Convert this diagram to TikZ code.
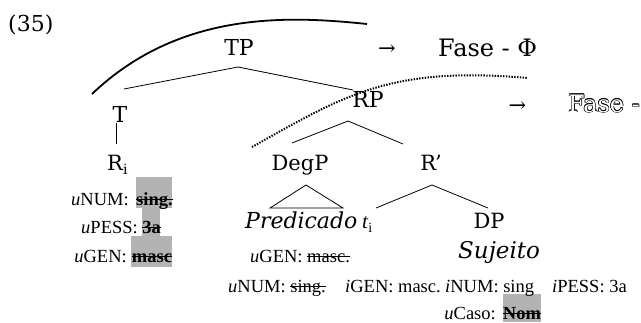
\documentclass[tikz,border=0pt]{standalone}
\usepackage{fontspec}
\setmainfont{Liberation Serif}
\newfontfamily\treefont{DejaVu Serif}
\definecolor{hl}{RGB}{179,179,179}
\newcommand{\tsz}[1]{\treefont\fontsize{#1}{#1}\selectfont}
\newcommand{\fsz}{\fontsize{18.5}{18.5}\selectfont}
\newcommand{\subi}{\raisebox{-0.22em}{\fontsize{14}{14}\selectfont i}}
\newlength\strklen
\newcommand{\strk}[1]{\settowidth{\strklen}{#1}\rlap{#1}\rule[0.3em]{\strklen}{0.8pt}}
\tikzset{
  lbl/.style={inner sep=0pt, anchor=base},
  feat/.style={inner sep=0pt, font=\fsz},
  edge/.style={line width=0.8pt},
  hlbox/.style={fill=hl, draw=none},
  phasearc/.style={line width=1.8pt},
  dotarc/.style={line width=2pt, dash pattern=on 1.4pt off 1.4pt},
  outl/.style={lbl, anchor=base west, font=\tsz{24}}
}
\begin{document}
\begin{tikzpicture}[x=1pt,y=-1pt]
\useasboundingbox (0,0) rectangle (641,322);
\clip (0,0) rectangle (641,322);
% highlight boxes
\fill[hlbox] (136,177) rectangle (172,208);
\fill[hlbox] (142,208) rectangle (160,236);
\fill[hlbox] (131,236) rectangle (172,267);
\fill[hlbox] (503,294) rectangle (541,322);
% header
\node[lbl, anchor=base west, font=\tsz{22}] (ex) at (8,31) {(35)};
% tree labels
\node[lbl, font=\tsz{22}] (TP) at (239,55) {TP};
\node[lbl, font=\tsz{21}] (ar1) at (387,55) {→};
\node[lbl, anchor=base west, font=\tsz{24}] (fase1) at (438,56) {Fase - Φ};
\node[lbl, font=\tsz{22}] (RP) at (368,107) {RP};
\node[lbl, font=\tsz{21}] (ar2) at (517.5,112) {→};
% outlined "Fase -"
\foreach \dx/\dy in {0.6/0,-0.6/0,0/0.6,0/-0.6,0.42/0.42,-0.42/0.42,0.42/-0.42,-0.42/-0.42}
  \node[outl, text=black] at (568+\dx,112+\dy) {Fase -};
\node[outl, text=white] (fase2) at (568,112) {Fase -};
\node[lbl, font=\tsz{22}] (T) at (120,122) {T};
\node[lbl, anchor=base west, font=\tsz{21}] (Ri) at (107,170) {R\subi};
\node[lbl, font=\tsz{21}] (DegP) at (300,170) {DegP};
\node[lbl, font=\tsz{21}] (Rbar) at (431,170) {R’};
\node[lbl, anchor=base west, font=\tsz{22}\itshape] (pred) at (245,228) {Predicado};
\node[lbl, anchor=base west, font=\fontsize{21}{21}\selectfont] (ti) at (362,228) {\textit{t}\subi};
\node[lbl, font=\tsz{21}] (DP) at (489,228) {DP};
\node[lbl, anchor=base west, font=\tsz{23}\itshape] (suj) at (458,258) {Sujeito};
% connector end points
\coordinate (TPb) at (238,67);
\coordinate (Tt) at (124,89);
\coordinate (RPt) at (353,90);
\coordinate (Tb) at (116,123);
\coordinate (Rit) at (116,144);
\coordinate (RPb) at (348,121);
\coordinate (DegPt) at (292,143);
\coordinate (Rbart) at (403,144);
\coordinate (DegPb) at (306,185);
\coordinate (triL) at (270,208);
\coordinate (triR) at (343,208);
\coordinate (Rbarb) at (432,185);
\coordinate (tit) at (376,208);
\coordinate (DPt) at (488,208);
\draw[edge] (TPb) -- (Tt);
\draw[edge] (TPb) -- (RPt);
\draw[edge] (Tb) -- (Rit);
\draw[edge] (RPb) -- (DegPt);
\draw[edge] (RPb) -- (Rbart);
\draw[edge] (DegPb) -- (triL) -- (triR) -- cycle;
\draw[edge] (Rbarb) -- (tit);
\draw[edge] (Rbarb) -- (DPt);
% phase arcs
\coordinate (a1) at (92,94);
\coordinate (a2) at (367,24);
\draw[phasearc] (a1) .. controls (180,10) and (290,16) .. (a2);
\coordinate (b1) at (252,147);
\coordinate (b2) at (528,78);
\draw[dotarc] (b1) .. controls (345,95) and (390,66) .. (b2);
% features of R
\node[feat, anchor=base east] (f1) at (129,205) {\textit{u}NUM:};
\node[feat, anchor=base] (v1) at (154.5,205) {\strk{\textbf{sing.}}};
\node[feat, anchor=base east] (f2) at (138,233) {\textit{u}PESS:};
\node[feat, anchor=base] (v2) at (151.5,233) {\strk{\textbf{3a}}};
\node[feat, anchor=base east] (f3) at (127,262) {\textit{u}GEN:};
\node[feat, anchor=base] (v3) at (152,262) {\strk{\textbf{masc}}};
% features of predicate / subject
\node[feat, anchor=base west] (g1) at (250,262) {\textit{u}GEN: \strk{masc.}};
\node[feat, anchor=base west] (g2) at (228,292) {\textit{u}NUM: \strk{sing.}};
\node[feat, anchor=base west] (g3) at (345,292) {\textit{i}GEN: masc.};
\node[feat, anchor=base west] (g4) at (445,292) {\textit{i}NUM: sing};
\node[feat, anchor=base west] (g5) at (552,292) {\textit{i}PESS: 3a};
\node[feat, anchor=base east] (g6) at (496,319) {\textit{u}Caso:};
\node[feat, anchor=base] (v6) at (522,319) {\strk{\textbf{Nom}}};
\end{tikzpicture}
\end{document}
